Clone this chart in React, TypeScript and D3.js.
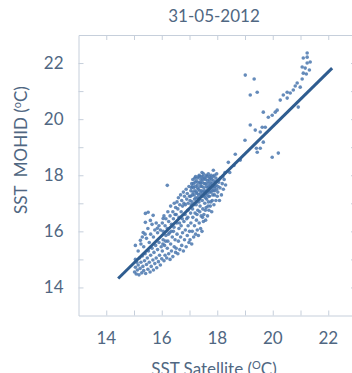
import React, { useRef, useEffect } from "react";
import * as d3 from "d3";

const title = "31-05-2012";
const tickLabels = [14, 16, 18, 20, 22];

// [satellite, model] pairs
const cloudLow: number[][] = [
  [15.02, 14.55], [15.05, 14.72], [15.08, 14.48], [15.1, 14.9], [15.12, 14.62], [15.15, 14.8],
  [15.18, 14.45], [15.2, 15.05], [15.22, 14.68], [15.25, 14.9], [15.28, 14.52], [15.3, 15.12],
  [15.32, 14.75], [15.35, 14.6], [15.38, 14.95], [15.4, 15.2], [15.42, 14.5], [15.45, 14.82],
  [15.48, 15.05], [15.5, 14.65], [15.52, 15.3], [15.55, 14.9], [15.58, 14.55], [15.6, 15.15],
  [15.62, 14.75], [15.65, 15.4], [15.68, 14.98], [15.7, 14.62], [15.72, 15.25], [15.75, 14.85],
  [15.78, 15.5], [15.8, 15.05], [15.82, 14.7], [15.85, 15.35], [15.88, 14.92], [15.9, 15.6],
  [15.92, 15.15], [15.95, 14.8], [15.98, 15.45], [16.0, 15.02],
  [15.05, 15.0], [15.15, 15.3], [15.25, 15.55], [15.35, 15.45], [15.45, 15.75], [15.55, 15.6],
  [15.6, 15.9], [15.7, 15.8], [15.75, 16.05], [15.85, 15.95], [15.9, 16.2], [15.95, 16.05],
  [15.4, 15.9], [15.5, 16.1], [15.3, 15.8], [15.65, 16.25], [15.8, 16.3],
];

const cloudMid: number[][] = [
  [16.02, 15.3], [16.05, 15.7], [16.08, 14.95], [16.1, 15.5], [16.12, 15.15], [16.15, 15.85],
  [16.18, 15.05], [16.2, 15.4], [16.22, 15.65], [16.25, 15.2], [16.28, 15.95], [16.3, 15.0],
  [16.32, 15.55], [16.35, 15.3], [16.38, 15.8], [16.4, 15.1], [16.42, 16.0], [16.45, 15.45],
  [16.48, 15.7], [16.5, 15.25],
  [16.02, 16.3], [16.05, 16.0], [16.08, 16.55], [16.12, 16.2], [16.15, 16.45], [16.2, 16.1],
  [16.22, 16.7], [16.25, 16.35], [16.3, 16.55], [16.32, 16.9], [16.35, 16.25], [16.4, 16.7],
  [16.42, 16.45], [16.45, 17.0], [16.48, 16.6], [16.5, 16.85],
  [16.52, 15.4], [16.55, 15.9], [16.58, 15.2], [16.6, 15.65], [16.62, 16.1], [16.65, 15.35],
  [16.68, 15.8], [16.7, 16.2], [16.72, 15.5], [16.75, 15.95], [16.78, 15.3], [16.8, 16.35],
  [16.82, 15.7], [16.85, 16.05], [16.88, 15.45], [16.9, 16.45], [16.92, 15.85], [16.95, 16.2],
  [16.98, 15.6], [17.0, 16.0],
  [16.52, 16.6], [16.55, 17.05], [16.58, 16.8], [16.6, 17.2], [16.62, 16.5], [16.65, 16.95],
  [16.68, 17.3], [16.7, 16.7], [16.72, 17.1], [16.75, 16.9], [16.78, 17.4], [16.8, 17.0],
  [16.82, 17.25], [16.85, 16.95], [16.88, 17.5], [16.9, 17.15], [16.92, 17.35], [16.95, 17.0],
  [16.98, 17.6], [17.0, 17.25],
];

const cloudHigh: number[][] = [
  [17.02, 15.7], [17.05, 16.3], [17.08, 15.55], [17.1, 16.0], [17.12, 16.5], [17.15, 15.8],
  [17.18, 16.2], [17.2, 16.65], [17.22, 15.9], [17.25, 16.4], [17.28, 16.05], [17.3, 16.75],
  [17.32, 15.85], [17.35, 16.3], [17.38, 16.9], [17.4, 16.1], [17.42, 16.55], [17.45, 16.0],
  [17.48, 16.8], [17.5, 16.35],
  [17.02, 17.1], [17.05, 17.45], [17.08, 17.7], [17.1, 17.3], [17.12, 17.85], [17.15, 17.55],
  [17.18, 17.15], [17.2, 17.75], [17.22, 17.95], [17.25, 17.4], [17.28, 17.65], [17.3, 17.9],
  [17.32, 17.5], [17.35, 18.0], [17.38, 17.75], [17.4, 17.35], [17.42, 17.95], [17.45, 17.6],
  [17.48, 17.85], [17.5, 18.05], [17.1, 17.6], [17.2, 17.45], [17.3, 17.2], [17.4, 17.7],
  [17.45, 18.1], [17.36, 17.15], [17.26, 17.05], [17.16, 16.95], [17.06, 16.95], [17.44, 17.45],
  [17.52, 16.6], [17.55, 17.0], [17.58, 16.4], [17.6, 16.85], [17.62, 17.15], [17.65, 16.55],
  [17.68, 17.05], [17.7, 16.75], [17.72, 17.25], [17.75, 16.9], [17.78, 17.4], [17.8, 16.7],
  [17.82, 17.1], [17.85, 17.45], [17.88, 16.95], [17.9, 17.3], [17.92, 17.6], [17.95, 17.1],
  [17.98, 17.5], [18.0, 17.25],
  [17.52, 17.55], [17.55, 17.9], [17.58, 17.7], [17.6, 18.0], [17.62, 17.45], [17.65, 17.8],
  [17.68, 18.05], [17.7, 17.6], [17.72, 17.95], [17.75, 17.75], [17.78, 18.0], [17.8, 17.85],
  [17.85, 17.95], [17.9, 18.0], [17.95, 17.9], [17.98, 18.05], [17.56, 17.4], [17.66, 17.55],
  [17.76, 17.65],
  [18.02, 17.4], [18.05, 17.75], [18.08, 17.1], [18.1, 17.55], [18.12, 17.9], [18.15, 17.3],
  [18.18, 17.7], [18.2, 17.95], [18.22, 17.5], [18.25, 17.85], [18.28, 18.1], [18.3, 17.65],
];

// the dark core of the cloud, around 17-18 °C
const cloudCore: number[][] = [
  [17.04, 17.25], [17.07, 17.55], [17.09, 17.05], [17.13, 17.4], [17.14, 17.7], [17.17, 17.3],
  [17.19, 17.9], [17.21, 17.6], [17.23, 17.2], [17.24, 17.8], [17.27, 17.35], [17.29, 17.55],
  [17.31, 17.75], [17.33, 17.3], [17.34, 17.95], [17.37, 17.45], [17.39, 17.6], [17.41, 17.85],
  [17.43, 17.25], [17.46, 17.75], [17.47, 17.4], [17.49, 17.95], [17.51, 17.25], [17.53, 17.7],
  [17.54, 17.45], [17.57, 17.85], [17.59, 17.3], [17.61, 17.6], [17.63, 17.95], [17.64, 17.35],
  [17.67, 17.7], [17.69, 17.45], [17.71, 17.85], [17.73, 17.4], [17.74, 17.55], [17.77, 17.9],
  [17.79, 17.5], [17.81, 17.7], [17.83, 17.6], [17.84, 17.3], [17.87, 17.8], [17.89, 17.55],
  [17.91, 17.45], [17.93, 17.75], [17.96, 17.65], [17.99, 17.8], [18.03, 17.6], [18.07, 17.85],
  [17.11, 16.8], [17.24, 16.95], [17.34, 17.05], [17.46, 17.1], [17.57, 17.2], [17.69, 17.25],
  [17.27, 16.6], [17.37, 16.7], [17.47, 16.5], [17.57, 16.75], [17.67, 16.9], [17.77, 17.05],
  [16.84, 16.6], [16.94, 16.75], [16.74, 16.45], [16.64, 16.3], [16.94, 16.5], [17.04, 16.65],
  [16.44, 16.15], [16.34, 16.0], [16.24, 15.9], [16.14, 15.65], [16.54, 16.3], [16.04, 15.55],
];

const scattered: number[][] = [
  [15.41, 16.64], [15.51, 16.68], [15.69, 16.57], [15.41, 16.32], [15.59, 16.39], [15.33, 15.96],
  [15.84, 16.11], [16.05, 16.46], [16.2, 17.64], [15.05, 15.5], [15.23, 15.68],
  [17.86, 18.18], [18.4, 18.46], [18.45, 18.1], [18.6, 18.35], [18.83, 18.54], [18.65, 18.75],
  [19.01, 21.57], [19.33, 21.43], [19.19, 20.86], [19.44, 20.96],
  [19.0, 19.25], [19.19, 19.79], [19.37, 19.61], [19.66, 20.25], [19.84, 20.07], [19.73, 19.71],
  [19.62, 19.71], [19.55, 19.54], [19.66, 19.18], [19.41, 18.96], [19.55, 18.96], [19.44, 18.82],
  [20.2, 18.79], [19.98, 18.64],
  [19.98, 20.14], [20.09, 20.25], [20.16, 20.32], [20.27, 20.68], [20.38, 20.86], [20.52, 20.75],
  [20.63, 20.93], [20.74, 21.04], [20.99, 21.14], [20.88, 21.29], [20.92, 20.43], [20.81, 21.18],
  [20.52, 20.96], [21.06, 21.43], [21.1, 21.64], [21.06, 21.86], [21.24, 22.0], [21.24, 22.21],
  [21.1, 22.18], [21.24, 22.36], [21.17, 21.82], [21.32, 21.75], [21.21, 21.61], [21.35, 22.04],
];

// fitted line end points
const fitLine: number[][] = [
  [14.43, 14.32],
  [22.14, 21.82],
];

const W = 352;
const H = 373;

const App = () => {
  const ref = useRef<SVGSVGElement>(null);

  useEffect(() => {
    const svg = d3.select(ref.current);
    svg.selectAll("*").remove();

    const left = 78.5;
    const right = 356;
    const top = 35;
    const bottom = 315.5;

    const xScale = d3.scaleLinear().domain([13, 23]).range([left, right]);
    const yScale = d3.scaleLinear().domain([13, 23]).range([bottom, top]);

    const axisColor = "#c6cfdb";
    const textColor = "#506782";
    const font = "Lato, 'Open Sans', sans-serif";
    const unitTicks = d3.range(14, 23);

    const styleAxis = (g: any) => {
      g.selectAll("path").attr("stroke", axisColor);
      g.selectAll("line").attr("stroke", axisColor);
      g.selectAll("text").remove();
    };

    // frame + inward ticks
    svg.append("g")
      .attr("transform", `translate(0,${bottom})`)
      .call(d3.axisBottom(xScale).tickValues(unitTicks).tickSizeInner(-5).tickSizeOuter(0))
      .call(styleAxis);
    svg.append("g")
      .attr("transform", `translate(0,${top})`)
      .call(d3.axisTop(xScale).tickValues(unitTicks).tickSizeInner(-5).tickSizeOuter(0))
      .call(styleAxis);
    svg.append("g")
      .attr("transform", `translate(${left},0)`)
      .call(d3.axisLeft(yScale).tickValues(unitTicks).tickSizeInner(-5).tickSizeOuter(0))
      .call(styleAxis);
    svg.append("g")
      .attr("transform", `translate(${right},0)`)
      .call(d3.axisRight(yScale).tickValues(unitTicks).tickSizeInner(-5).tickSizeOuter(0))
      .call(styleAxis);

    // tick labels
    svg.append("g")
      .selectAll("text")
      .data(tickLabels)
      .join("text")
      .attr("x", (d) => xScale(d))
      .attr("y", bottom + 28)
      .attr("text-anchor", "middle")
      .attr("font-family", font)
      .attr("font-size", 17)
      .attr("fill", textColor)
      .text((d) => d);

    svg.append("g")
      .selectAll("text")
      .data(tickLabels)
      .join("text")
      .attr("x", left - 15)
      .attr("y", (d) => yScale(d) + 6)
      .attr("text-anchor", "end")
      .attr("font-family", font)
      .attr("font-size", 17)
      .attr("fill", textColor)
      .text((d) => d);

    // points
    const allPoints = [...cloudLow, ...cloudMid, ...cloudHigh, ...cloudCore, ...scattered];
    svg.append("g")
      .selectAll("circle")
      .data(allPoints)
      .join("circle")
      .attr("cx", (d) => xScale(d[0]))
      .attr("cy", (d) => yScale(d[1]))
      .attr("r", 1.8)
      .attr("fill", "#4a77ae")
      .attr("opacity", 0.85);

    // fit line
    const line = d3.line<number[]>()
      .x((d) => xScale(d[0]))
      .y((d) => yScale(d[1]));
    svg.append("path")
      .datum(fitLine)
      .attr("fill", "none")
      .attr("stroke", "#2f5d90")
      .attr("stroke-width", 3)
      .attr("d", line);

    // title + axis titles
    svg.append("text")
      .attr("x", 214)
      .attr("y", 22)
      .attr("text-anchor", "middle")
      .attr("font-family", font)
      .attr("font-size", 17)
      .attr("fill", textColor)
      .text(title);

    const xLabel = svg.append("text")
      .attr("x", 214)
      .attr("y", 375)
      .attr("text-anchor", "middle")
      .attr("font-family", font)
      .attr("font-size", 17)
      .attr("fill", textColor);
    xLabel.append("tspan").text("SST Satellite (");
    xLabel.append("tspan").attr("dy", -6).attr("font-size", 11).text("O");
    xLabel.append("tspan").attr("dy", 6).text("C)");

    const yLabel = svg.append("text")
      .attr("transform", `translate(27,150) rotate(-90)`)
      .attr("text-anchor", "middle")
      .attr("font-family", font)
      .attr("font-size", 17)
      .attr("fill", textColor)
      .attr("xml:space", "preserve");
    yLabel.append("tspan").text("SST  MOHID (");
    yLabel.append("tspan").attr("dy", -6).attr("font-size", 11).text("o");
    yLabel.append("tspan").attr("dy", 6).text("C)");
  }, []);

  return (
    <svg
      ref={ref}
      width={W}
      height={H}
      style={{ position: "absolute", left: 0, top: 0, background: "#fff" }}
    ></svg>
  );
};

export default App;
